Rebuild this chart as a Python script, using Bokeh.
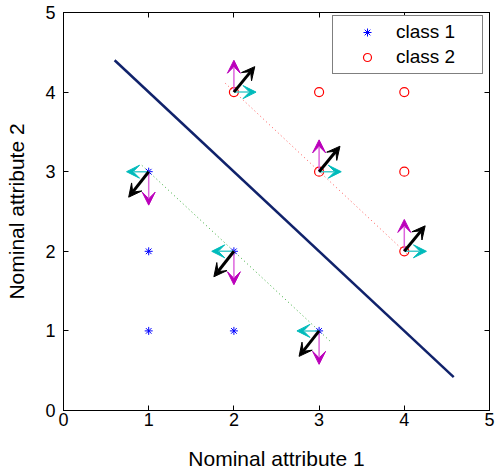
from bokeh.plotting import figure
from bokeh.models import (Range1d, LinearAxis, FixedTicker, Arrow, VeeHead,
                          ColumnDataSource, Legend, LegendItem, CustomLabelingPolicy)
from bokeh.embed import file_html
from bokeh.resources import INLINE

# ---- data ----
class1_x = [1, 2, 3, 1, 2, 1]
class1_y = [1, 1, 1, 2, 2, 3]
class2_x = [2, 3, 4, 3, 4, 4]
class2_y = [4, 4, 4, 3, 3, 2]

boundary_x = [0.6, 4.58]
boundary_y = [4.4, 0.42]

margin1_x = [0.92, 3.13]
margin1_y = [3.08, 0.87]
margin2_x = [1.90, 4.03]
margin2_y = [4.11, 1.97]

sv1_x = [1, 2, 3]
sv1_y = [3, 2, 1]
sv2_x = [2, 3, 4]
sv2_y = [4, 3, 2]

# arrow vectors (dx, dy) per class
cyan1 = (-0.26, 0.0)
magenta1 = (0.0, -0.42)
black1 = (-0.235, -0.32)
cyan2 = (0.26, 0.0)
magenta2 = (0.0, 0.40)
black2 = (0.245, 0.32)

ticks = [0, 1, 2, 3, 4, 5]
FONT = "Liberation Sans"

p = figure(width=496, height=472, output_backend="svg", toolbar_location=None,
           x_range=Range1d(0, 5), y_range=Range1d(0, 5),
           min_border_left=63, min_border_right=7, min_border_top=12,
           min_border_bottom=60,
           x_axis_label="Nominal attribute 1", y_axis_label="Nominal attribute 2")
p.xgrid.visible = False
p.ygrid.visible = False
p.outline_line_color = "black"
p.outline_line_width = 1
p.background_fill_color = "white"
p.border_fill_color = "white"

for ax in (p.xaxis[0], p.yaxis[0]):
    ax.ticker = FixedTicker(ticks=ticks)
    ax.minor_tick_line_color = None
    ax.major_tick_in = 5
    ax.major_tick_out = 0
    ax.major_tick_line_color = "black"
    ax.axis_line_color = "black"
    ax.major_label_text_font = FONT
    ax.major_label_text_font_size = "18px"
    ax.major_label_text_color = "black"
    ax.axis_label_text_font = FONT
    ax.axis_label_text_font_size = "21px"
    ax.axis_label_text_font_style = "normal"
    ax.axis_label_text_color = "black"
p.xaxis[0].major_label_standoff = 2
p.xaxis[0].axis_label_standoff = 18
p.yaxis[0].major_label_standoff = 8
p.yaxis[0].axis_label_standoff = 14

hide_labels = CustomLabelingPolicy(code="""
    for (const i of indices) indices.unset(i)
    return indices
""")
for side in ("above", "right"):
    ax = LinearAxis(ticker=FixedTicker(ticks=ticks), major_tick_in=5, major_tick_out=0,
                    minor_tick_line_color=None, major_label_text_font_size="1px",
                    major_label_policy=hide_labels,
                    major_label_standoff=0, axis_line_color="black")
    p.add_layout(ax, side)

# margin (dotted) lines
p.line(margin1_x, margin1_y, line_color="#33aa33", line_width=1, line_dash="1 3")
p.line(margin2_x, margin2_y, line_color="#ff5555", line_width=1, line_dash="1 3")

# decision boundary
p.line(boundary_x, boundary_y, line_color="#10226b", line_width=2.5)

# points
r1 = p.scatter(class1_x, class1_y, marker="asterisk", size=8, line_color="blue", line_width=1)
r2 = p.scatter(class2_x, class2_y, marker="circle", size=9, line_color="red",
               fill_color=None, line_width=1.2)


def add_arrows(xs, ys, vec, color, head_color, width, head_size):
    src = ColumnDataSource(dict(x0=xs, y0=ys,
                                x1=[x + vec[0] for x in xs],
                                y1=[y + vec[1] for y in ys]))
    p.add_layout(Arrow(end=VeeHead(size=head_size, fill_color=head_color,
                                   line_color=head_color, line_width=1),
                       x_start="x0", y_start="y0", x_end="x1", y_end="y1",
                       source=src, line_color=color, line_width=width))


add_arrows(sv1_x, sv1_y, cyan1, "#44cccc", "#00bbbb", 1.5, 13)
add_arrows(sv1_x, sv1_y, magenta1, "#dd66dd", "#bb00bb", 1.5, 13)
add_arrows(sv1_x, sv1_y, black1, "black", "black", 3, 13)
add_arrows(sv2_x, sv2_y, cyan2, "#44cccc", "#00bbbb", 1.5, 13)
add_arrows(sv2_x, sv2_y, magenta2, "#dd66dd", "#bb00bb", 1.5, 13)
add_arrows(sv2_x, sv2_y, black2, "black", "black", 3, 13)

legend = Legend(items=[LegendItem(label="class 1", renderers=[r1]),
                       LegendItem(label="class 2", renderers=[r2])],
                location=(269, 336), padding=5, spacing=3,
                glyph_width=58, glyph_height=20, label_standoff=0,
                label_width=81, label_height=20,
                label_text_font=FONT, label_text_font_size="19px",
                label_text_color="black",
                border_line_color="black", border_line_width=1,
                background_fill_color="white", background_fill_alpha=1)
p.add_layout(legend)

open("out.html", "w").write(file_html(p, INLINE))
